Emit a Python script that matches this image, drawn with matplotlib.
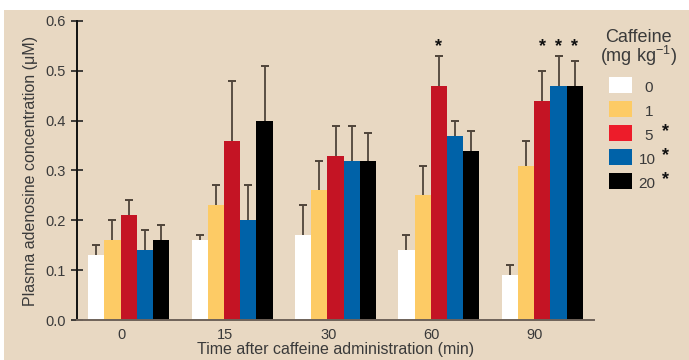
import matplotlib
matplotlib.use("Agg")
import matplotlib.pyplot as plt
from matplotlib.patches import Rectangle
import numpy as np

plt.rcParams['font.family'] = ['Liberation Sans', 'DejaVu Sans']

times = ["0", "15", "30", "60", "90"]
doses = ["0", "1", "5", "10", "20"]
dose_sig = [False, False, True, True, True]

# rows: dose, columns: time
means = {
    "0":  [0.13, 0.16, 0.17, 0.14, 0.09],
    "1":  [0.16, 0.23, 0.26, 0.25, 0.31],
    "5":  [0.21, 0.36, 0.33, 0.47, 0.44],
    "10": [0.14, 0.20, 0.32, 0.37, 0.47],
    "20": [0.16, 0.40, 0.32, 0.34, 0.47],
}
err_top = {
    "0":  [0.15, 0.17, 0.23, 0.17, 0.11],
    "1":  [0.20, 0.27, 0.32, 0.31, 0.36],
    "5":  [0.24, 0.48, 0.39, 0.53, 0.50],
    "10": [0.18, 0.27, 0.39, 0.40, 0.53],
    "20": [0.19, 0.51, 0.375, 0.38, 0.52],
}
# significance marks above bars: (time index, dose)
stars = [(3, "5"), (4, "5"), (4, "10"), (4, "20")]

bar_colors = ["#ffffff", "#fdcb65", "#c41424", "#0062a8", "#000000"]
legend_colors = ["#ffffff", "#fdcb65", "#ed1c2a", "#0062a8", "#000000"]
bg = "#e8d8c2"
txt = "#3a3a3a"
errc = "#4f443a"

fig = plt.figure(figsize=(6.89, 3.60), dpi=100, facecolor="white")
fig.patches.append(Rectangle((4/689, 0), 1, 1 - 10/360, transform=fig.transFigure,
                             facecolor=bg, edgecolor="none", zorder=-10))
ax = fig.add_axes([77/689, 1 - 320/360, (594-77)/689, (320-21)/360])
ax.set_zorder(1)
ax.patch.set_alpha(0)

x = np.arange(len(times))
w = 0.157
for i, d in enumerate(doses):
    pos = x + (i - 2) * w
    m = np.array(means[d])
    top = np.array(err_top[d])
    ax.bar(pos, m, width=w, color=bar_colors[i], edgecolor="none", zorder=2)
    ax.vlines(pos, m, top, color=errc, linewidth=1.3, zorder=1)
    ax.plot(pos, top, linestyle="none", marker="_", markersize=6, markeredgewidth=1.4,
            color=errc, zorder=1)

star_y = 0.548
for ti, d in stars:
    i = doses.index(d)
    ax.text(x[ti] + (i - 2) * w, star_y, "*", ha="center", va="center",
            fontsize=13, fontweight="bold", color="#111111")

ax.set_xlim(-0.5, 4.5)
ax.set_ylim(0, 0.6)
ax.set_yticks(np.arange(0, 0.61, 0.1))
ax.set_yticklabels([f"{v:.1f}" for v in np.arange(0, 0.61, 0.1)])
ax.set_xticks(x - 0.07)
ax.set_xticklabels(times)
ax.tick_params(axis="x", length=0, pad=6, labelsize=10.5, labelcolor=txt)
ax.tick_params(axis="y", direction="inout", length=8, width=1.2, color="#222222",
               pad=4, labelsize=10.5, labelcolor=txt)
for s in ["top", "right"]:
    ax.spines[s].set_visible(False)
ax.spines["left"].set_color("#111111")
ax.spines["left"].set_linewidth(1.4)
ax.spines["bottom"].set_color("#6e6259")
ax.spines["bottom"].set_linewidth(1.4)

ax.set_ylabel("Plasma adenosine concentration (\u03bcM)", fontsize=11.5, color=txt, labelpad=5)
ax.set_xlabel("Time after caffeine administration (min)", fontsize=11.5, color=txt, labelpad=0)

# legend (manual)
fig.text(638/689, 1 - 37/360, "Caffeine", ha="center", va="center", fontsize=13, color=txt)
fig.text(638/689, 1 - 56/360, "(mg kg$^{\\mathregular{-1}}$)", ha="center", va="center",
         fontsize=13, color=txt)
for i, d in enumerate(doses):
    ytop = 77 + 24 * i
    fig.patches.append(Rectangle((609/689, 1 - (ytop + 16)/360), 23/689, 16/360,
                                 transform=fig.transFigure, facecolor=legend_colors[i],
                                 edgecolor="none", zorder=2))
    xl = 649/689 if len(d) == 1 else 647/689
    fig.text(xl, 1 - (ytop + 11)/360, d, ha="center", va="center", fontsize=11, color=txt)
    if dose_sig[i]:
        fig.text(666/689, 1 - (ytop + 7)/360, "*", ha="center", va="center",
                 fontsize=13, fontweight="bold", color="#111111")

fig.savefig("out.png", dpi=100, facecolor=fig.get_facecolor())
